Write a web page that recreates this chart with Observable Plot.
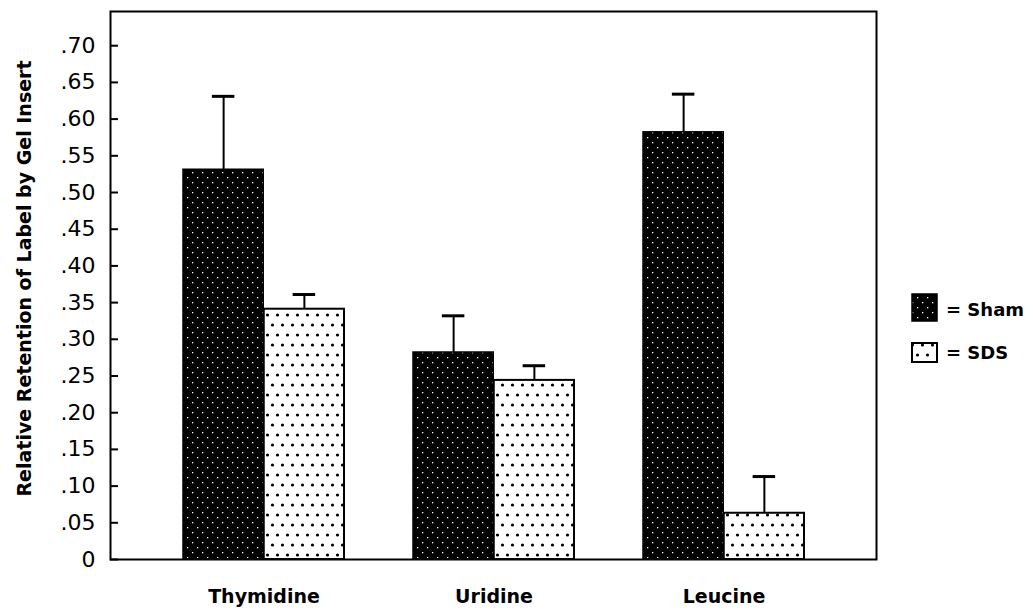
<!DOCTYPE html>
<html><head><meta charset="utf-8">
<script src="https://cdn.jsdelivr.net/npm/d3@7"></script>
<script src="https://cdn.jsdelivr.net/npm/@observablehq/plot@0.6"></script>
<style>
body{margin:0;background:#fff;}
#chart{position:relative;width:1033px;height:611px;}
</style></head><body><div id="chart"></div>
<script>
const categories = ["Thymidine", "Uridine", "Leucine"];
const seriesNames = ["Sham", "SDS"];
const shamValues = [0.531, 0.282, 0.582];
const shamErrors = [0.100, 0.050, 0.052];
const sdsValues = [0.341, 0.244, 0.063];
const sdsErrors = [0.020, 0.020, 0.050];
const yTicks = [0, 0.05, 0.10, 0.15, 0.20, 0.25, 0.30, 0.35, 0.40, 0.45, 0.50, 0.55, 0.60, 0.65, 0.70];
const yLabel = "Relative Retention of Label by Gel Insert";

const data = categories.map((c, i) => ({
  category: c,
  sham: shamValues[i], shamTop: shamValues[i] + shamErrors[i],
  sds: sdsValues[i], sdsTop: sdsValues[i] + sdsErrors[i]
}));

const W = 1033, H = 611, mL = 110, mR = 157, mT = 11, mB = 52;
const xOpts = {domain: categories, paddingInner: 0.30, paddingOuter: 0.31};
const bw = Plot.scale({x: {type: "band", ...xOpts, range: [mL, W - mR]}}).bandwidth;
const half = bw / 2, q = bw / 4, cap = 11.5;
const fmt = d => d === 0 ? "0" : d3.format(".2f")(d).replace(/^0/, "");
const FONT = "DejaVu Sans";

const plot = Plot.plot({
  width: W, height: H,
  marginLeft: mL, marginRight: mR, marginTop: mT, marginBottom: mB,
  style: {fontFamily: FONT, background: "white", color: "black"},
  x: {...xOpts, axis: null},
  y: {domain: [0, 0.7466], axis: null},
  marks: [
    Plot.barY(data, {x: "category", y: "sham", fill: "url(#shamPat)", stroke: "black", strokeWidth: 1.5, insetRight: half}),
    Plot.barY(data, {x: "category", y: "sds", fill: "url(#sdsPat)", stroke: "black", strokeWidth: 2, insetLeft: half}),
    Plot.ruleX(data, {x: "category", y1: "sham", y2: "shamTop", dx: -q, stroke: "black", strokeWidth: 2}),
    Plot.tickY(data, {x: "category", y: "shamTop", insetLeft: q - cap, insetRight: bw - q - cap, stroke: "black", strokeWidth: 3}),
    Plot.ruleX(data, {x: "category", y1: "sds", y2: "sdsTop", dx: q, stroke: "black", strokeWidth: 2}),
    Plot.tickY(data, {x: "category", y: "sdsTop", insetLeft: bw - q - cap, insetRight: q - cap, stroke: "black", strokeWidth: 3}),
    Plot.frame({stroke: "black", strokeWidth: 2}),
    Plot.axisY(yTicks, {tickSize: 8, dx: 8, tickFormat: () => "", strokeWidth: 2, label: null}),
    Plot.axisY(yTicks, {tickSize: 0, tickPadding: 15, tickFormat: fmt, fontSize: 22, label: null}),
    Plot.axisX(categories, {tickSize: 0, tickPadding: 30, fontSize: 19, fontWeight: "bold", label: null}),
    Plot.text([yLabel], {frameAnchor: "left", textAnchor: "middle", rotate: -90, dx: -86, dy: -7, fontSize: 19, fontWeight: "bold", fill: "black"})
  ]
});

const svg = d3.select(plot);
const defs = svg.insert("defs", ":first-child");
const sp = defs.append("pattern").attr("id", "shamPat").attr("patternUnits", "userSpaceOnUse").attr("width", 10).attr("height", 10);
sp.append("rect").attr("width", 10).attr("height", 10).attr("fill", "black");
sp.append("rect").attr("x", 2).attr("y", 2).attr("width", 1.3).attr("height", 1.3).attr("fill", "white");
sp.append("rect").attr("x", 7).attr("y", 7).attr("width", 1.3).attr("height", 1.3).attr("fill", "white");
const dp = defs.append("pattern").attr("id", "sdsPat").attr("patternUnits", "userSpaceOnUse").attr("width", 10).attr("height", 20);
dp.append("rect").attr("width", 10).attr("height", 20).attr("fill", "white");
dp.append("circle").attr("cx", 2.5).attr("cy", 5).attr("r", 1.6).attr("fill", "black");
dp.append("circle").attr("cx", 7.5).attr("cy", 15).attr("r", 1.6).attr("fill", "black");

// legend
const legendItems = [
  {name: seriesNames[0], fill: "url(#shamPat)", y: 294, h: 27, sw: 1.5, base: 316},
  {name: seriesNames[1], fill: "url(#sdsPat)", y: 343, h: 19, sw: 2, base: 359}
];
const lg = svg.append("g").attr("class", "legend").attr("text-anchor", "start");
legendItems.forEach(it => {
  lg.append("rect").attr("x", 912).attr("y", it.y).attr("width", 25).attr("height", it.h)
    .attr("fill", it.fill).attr("stroke", "black").attr("stroke-width", it.sw);
  lg.append("text").attr("x", 946).attr("y", it.base).attr("text-anchor", "start").attr("font-family", FONT)
    .attr("font-size", 18).attr("font-weight", "bold").attr("fill", "black").text("= " + it.name);
});

document.getElementById("chart").appendChild(plot);
</script></body></html>
